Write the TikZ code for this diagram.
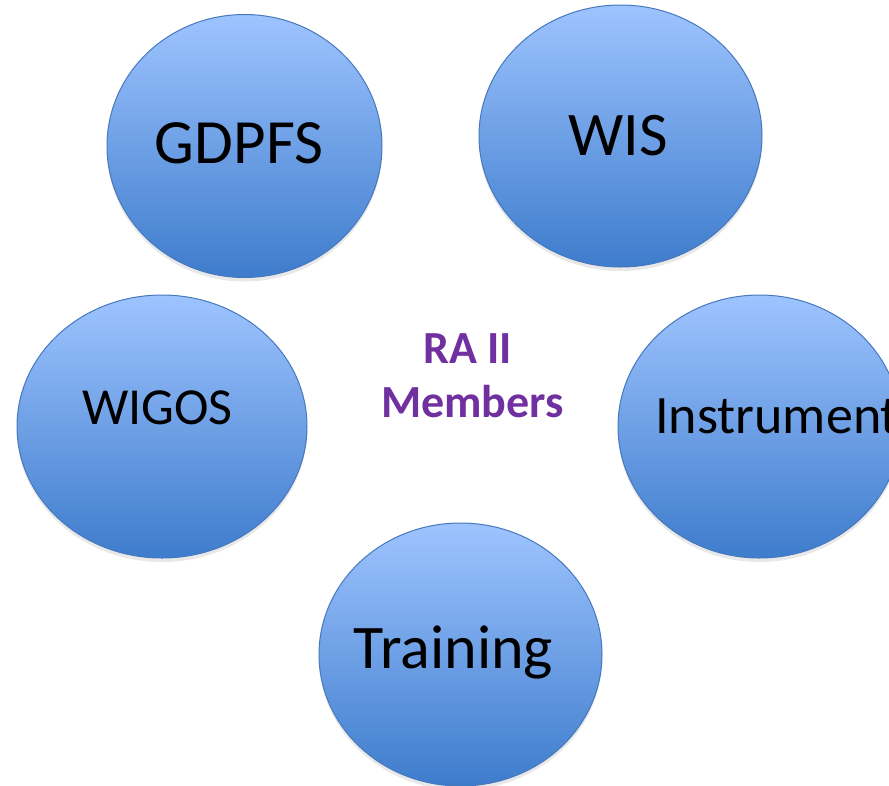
\documentclass[tikz,border=0pt]{standalone}
\usepackage{fontspec}
\setmainfont{Carlito}
\usetikzlibrary{shapes.geometric,shadows}
\definecolor{balltop}{RGB}{158,196,255}
\definecolor{ballbot}{RGB}{62,124,204}
\definecolor{ballline}{RGB}{70,120,190}
\definecolor{rapurple}{RGB}{112,48,160}
\tikzset{
  ball/.style={ellipse, draw=ballline, line width=1pt, top color=balltop, bottom color=ballbot,
    inner sep=0pt, drop shadow={opacity=0.18, shadow xshift=0pt, shadow yshift=-4pt}},
  lbl/.style={anchor=base, inner sep=0pt, text=black},
}
\begin{document}
\begin{tikzpicture}[x=1pt,y=-1pt]
\useasboundingbox (0,0) rectangle (889,785);
\clip (0,0) rectangle (889,785);
\node[ball, minimum width=275pt, minimum height=263pt] (gdpfs) at (244.5,146) {};
\node[ball, minimum width=283pt, minimum height=262pt] (wis) at (620.5,136) {};
\node[ball, minimum width=290pt, minimum height=263pt] (wigos) at (162,426.5) {};
\node[ball, minimum width=283pt, minimum height=263pt] (instr) at (759.5,426.5) {};
\node[ball, minimum width=283pt, minimum height=263pt] (train) at (460.5,654.5) {};
\node[lbl, font=\fontsize{63}{75}\selectfont] (tg) at (239,163) {GDPFS};
\node[lbl, font=\fontsize{62}{74}\selectfont] (tw) at (618,155) {WIS};
\node[lbl, font=\fontsize{52}{62}\selectfont] (tgo) at (157.5,424) {WIGOS};
\node[lbl, anchor=base west, font=\fontsize{54}{64}\selectfont] (ti) at (655,433) {Instrument};
\node[lbl, font=\fontsize{62}{74}\selectfont] (tt) at (453.5,668) {Training};
\node[lbl, text=rapurple, font=\bfseries\fontsize{46}{55}\selectfont] (ra) at (467.5,363) {RA II};
\node[lbl, text=rapurple, font=\bfseries\fontsize{46}{55}\selectfont] (mem) at (472.5,417) {Members};
\end{tikzpicture}
\end{document}
